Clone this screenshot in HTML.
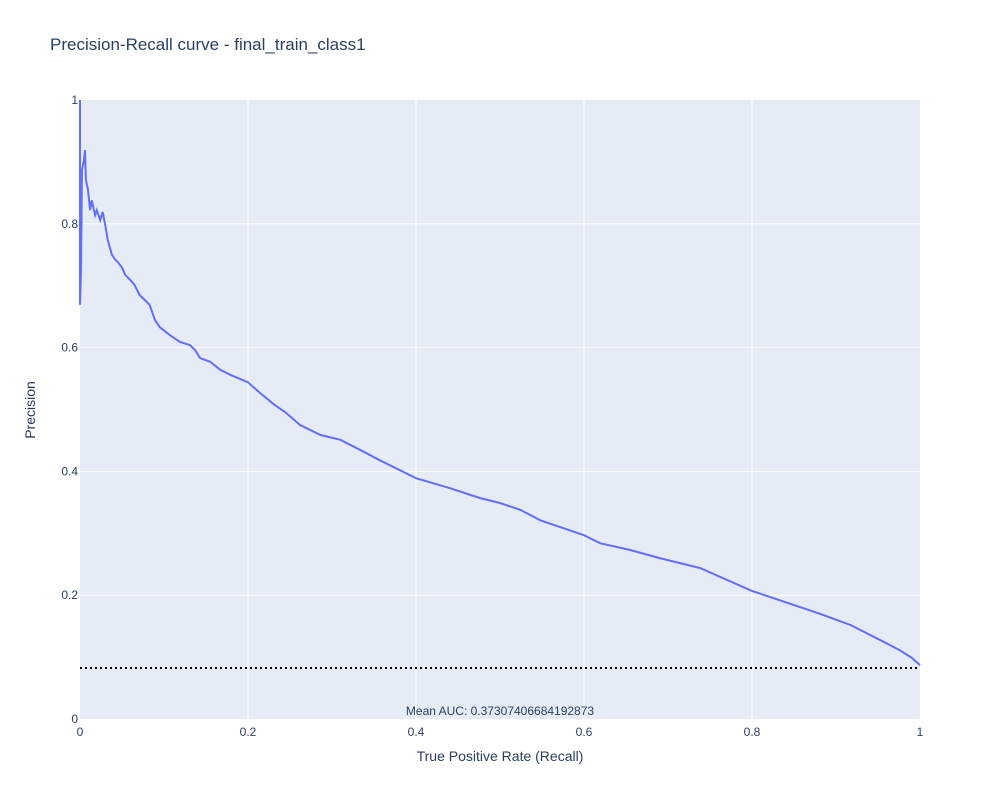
<!DOCTYPE html>
<html><head><meta charset="utf-8"><style>
body{margin:0;background:#fff;font-family:"Liberation Sans",sans-serif}
</style></head><body>
<svg id="chart" width="1000" height="800" xmlns="http://www.w3.org/2000/svg">
<rect x="0" y="0" width="1000" height="800" fill="#fff"/>
<rect x="80" y="100" width="840" height="619" fill="#e5ecf6"/>
<g id="grid"></g>
<g id="ticks" font-size="12" fill="#2a3f5f"></g>
<text x="50" y="50" font-size="17" fill="#2a3f5f">Precision-Recall curve - final_train_class1</text>
<text x="500" y="761" font-size="14" fill="#2a3f5f" text-anchor="middle">True Positive Rate (Recall)</text>
<text x="35" y="410" font-size="14" fill="#2a3f5f" text-anchor="middle" transform="rotate(-90 35 410)">Precision</text>
<line id="baseline" stroke="#000" stroke-width="2" stroke-dasharray="2,3"/>
<path id="curve" fill="none" stroke="#636efa" stroke-width="2"/>
<text x="500" y="715" font-size="12" fill="#2a3f5f" text-anchor="middle">Mean AUC: 0.37307406684192873</text>
</svg>
<script>
const recall=[0,0,0.0012,0.0024,0.0048,0.006,0.007,0.0095,0.012,0.014,0.018,0.020,0.024,0.027,0.030,0.033,0.038,0.042,0.045,0.050,0.054,0.060,0.065,0.071,0.077,0.083,0.089,0.095,0.107,0.119,0.131,0.137,0.143,0.155,0.167,0.179,0.2,0.214,0.232,0.244,0.262,0.286,0.310,0.333,0.357,0.4,0.440,0.476,0.5,0.524,0.548,0.6,0.619,0.655,0.690,0.738,0.8,0.881,0.917,0.952,0.976,0.990,1];
const precision=[1,0.669,0.725,0.887,0.903,0.919,0.871,0.855,0.822,0.838,0.814,0.822,0.806,0.819,0.798,0.774,0.750,0.742,0.738,0.729,0.717,0.709,0.701,0.685,0.677,0.669,0.645,0.633,0.620,0.609,0.604,0.596,0.583,0.577,0.564,0.556,0.544,0.527,0.507,0.496,0.475,0.459,0.451,0.435,0.418,0.389,0.373,0.357,0.349,0.338,0.321,0.297,0.284,0.273,0.260,0.244,0.207,0.170,0.152,0.128,0.111,0.099,0.087];
const baselineValue=0.0824;
const xTicks=[0,0.2,0.4,0.6,0.8,1];
const yTicks=[0,0.2,0.4,0.6,0.8,1];
const xTickLabels=["0","0.2","0.4","0.6","0.8","1"];
const yTickLabels=["0","0.2","0.4","0.6","0.8","1"];
const X=v=>80+v*840, Y=v=>719-v*619;
const NS="http://www.w3.org/2000/svg";
const grid=document.getElementById('grid'), ticks=document.getElementById('ticks');
xTicks.forEach((t,i)=>{
  if(t>0&&t<1){const l=document.createElementNS(NS,'line');
  l.setAttribute('x1',X(t));l.setAttribute('x2',X(t));l.setAttribute('y1',100);l.setAttribute('y2',719);
  l.setAttribute('stroke','#fff');l.setAttribute('stroke-width','1');
  
  
  grid.appendChild(l);}
  const tx=document.createElementNS(NS,'text');
  tx.setAttribute('x',X(t));tx.setAttribute('y',736);tx.setAttribute('text-anchor','middle');tx.textContent=xTickLabels[i];
  
  
  ticks.appendChild(tx);
});
yTicks.forEach((t,i)=>{
  if(t>0&&t<1){const l=document.createElementNS(NS,'line');
  l.setAttribute('x1',80);l.setAttribute('x2',920);l.setAttribute('y1',Y(t));l.setAttribute('y2',Y(t));
  l.setAttribute('stroke','#fff');l.setAttribute('stroke-width','1');
  
  
  grid.appendChild(l);}
  const tx=document.createElementNS(NS,'text');
  tx.setAttribute('x',78);tx.setAttribute('y',Y(t)+4);tx.setAttribute('text-anchor','end');tx.textContent=yTickLabels[i];
  
  
  ticks.appendChild(tx);
});
document.getElementById('curve').setAttribute('d',recall.map((r,i)=>(i?'L':'M')+X(r).toFixed(1)+','+Y(precision[i]).toFixed(1)).join(''));
const b=document.getElementById('baseline');
b.setAttribute('x1',X(0));b.setAttribute('x2',X(1));b.setAttribute('y1',Y(baselineValue));b.setAttribute('y2',Y(baselineValue));
</script>
</body></html>
